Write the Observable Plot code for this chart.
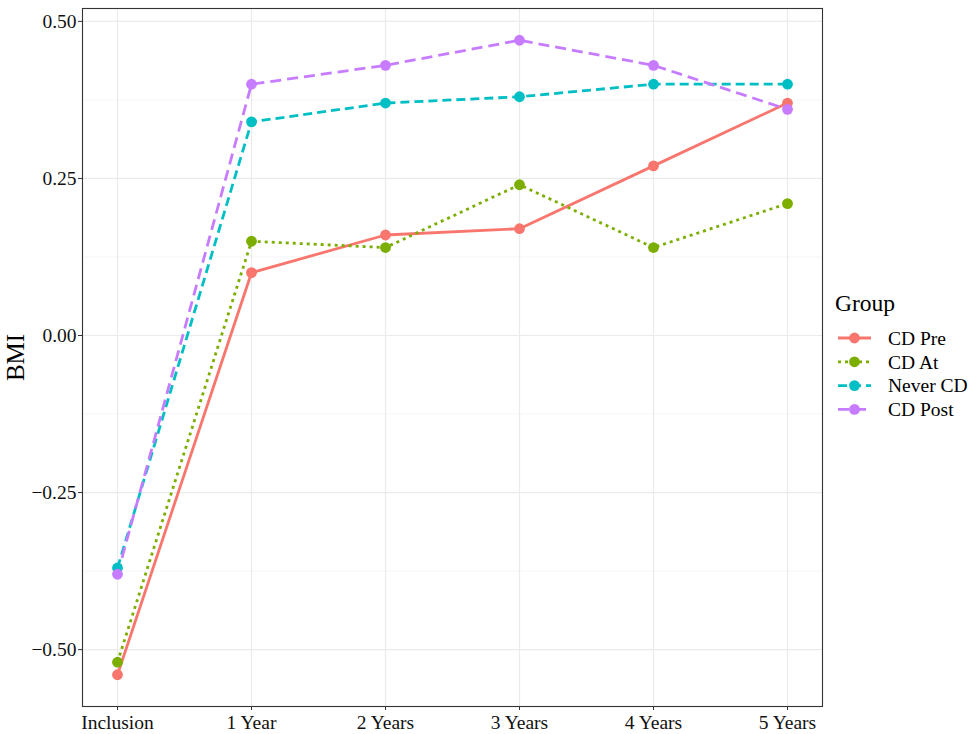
<!DOCTYPE html>
<html>
<head>
<meta charset="utf-8">
<script src="https://cdn.jsdelivr.net/npm/d3@7"></script>
<script src="https://cdn.jsdelivr.net/npm/@observablehq/plot@0.6"></script>
<style>
  html, body { margin: 0; padding: 0; background: #fff; }
  #wrap { position: relative; width: 976px; height: 734px; font-family: "Liberation Serif", serif; }
  #legend { position: absolute; left: 822px; top: 0; }
</style>
</head>
<body>
<div id="wrap"><div id="chart"></div><div id="legend"></div></div>
<script>
const timepoints = ["Inclusion", "1 Year", "2 Years", "3 Years", "4 Years", "5 Years"];
const groups = ["CD Pre", "CD At", "Never CD", "CD Post"];
const cdPre   = [-0.54, 0.10, 0.16, 0.17, 0.27, 0.37];
const cdAt    = [-0.52, 0.15, 0.14, 0.24, 0.14, 0.21];
const neverCD = [-0.37, 0.34, 0.37, 0.38, 0.40, 0.40];
const cdPost  = [-0.38, 0.40, 0.43, 0.47, 0.43, 0.36];
const colors  = ["#F8766D", "#7CAE00", "#00BFC4", "#C77CFF"];
const dashes  = [null, "3,4", "9,5", "11,6"];
const yTicks  = [-0.50, -0.25, 0.00, 0.25, 0.50];
const yMinor  = [-0.375, -0.125, 0.125, 0.375];

const series = [cdPre, cdAt, neverCD, cdPost];
const data = groups.flatMap((g, gi) => timepoints.map((t, ti) => ({group: g, time: t, bmi: series[gi][ti]})));

const lineMarks = groups.map((g, gi) => Plot.line(data.filter(d => d.group === g), {
  x: "time", y: "bmi", stroke: colors[gi], strokeWidth: 2.8,
  strokeDasharray: dashes[gi] || undefined, strokeLinecap: "butt"
}));
const dotMarks = groups.map((g, gi) => Plot.dot(data.filter(d => d.group === g), {
  x: "time", y: "bmi", fill: colors[gi], r: 5.4
}));

const chart = Plot.plot({
  width: 976, height: 734,
  marginLeft: 82, marginRight: 154, marginTop: 8, marginBottom: 28,
  style: {fontFamily: "Liberation Serif, serif", fontSize: "17px", color: "#000", background: "#fff"},
  x: {type: "point", domain: timepoints, padding: 0.25},
  y: {domain: [-0.5905, 0.5205]},
  marks: [
    Plot.gridY(yMinor, {stroke: "#f2f2f2", strokeOpacity: 1, strokeWidth: 0.7}),
    Plot.gridY(yTicks, {stroke: "#ebebeb", strokeOpacity: 1, strokeWidth: 1.2}),
    Plot.gridX(timepoints, {stroke: "#ebebeb", strokeOpacity: 1, strokeWidth: 1.2}),
    ...lineMarks,
    ...dotMarks,
    Plot.frame({stroke: "#333", strokeWidth: 1.1}),
    Plot.axisY(yTicks, {tickFormat: d3.format(".2f"), tickSize: 4, tickPadding: 2, stroke: "#333",
      label: "BMI", labelAnchor: "center", labelArrow: "none", labelOffset: 76}),
    Plot.axisX(timepoints, {tickSize: 4, tickPadding: 5, stroke: "#333", label: null})
  ]
});
chart.querySelectorAll("g[aria-label='y-axis tick label'], g[aria-label='x-axis tick label']").forEach(e => {
  e.setAttribute("font-size", 19.5); e.setAttribute("fill", "#111");
});
chart.querySelectorAll("g[aria-label='y-axis label']").forEach(e => e.setAttribute("font-size", 25));
document.getElementById("chart").appendChild(chart);

// Legend
const lg = d3.select("#legend").append("svg").attr("width", 154).attr("height", 440)
  .style("font-family", "Liberation Serif, serif");
lg.append("text").attr("x", 13).attr("y", 311).attr("font-size", 23.5).text("Group");
groups.forEach((g, i) => {
  const y = 338 + i * 23.8;
  const row = lg.append("g");
  row.append("line").attr("x1", 16).attr("x2", 49).attr("y1", y).attr("y2", y)
    .attr("stroke", colors[i]).attr("stroke-width", 2.8)
    .attr("stroke-dasharray", dashes[i] || null);
  row.append("circle").attr("cx", 32.5).attr("cy", y).attr("r", 5.4).attr("fill", colors[i]);
  row.append("text").attr("x", 66).attr("y", y).attr("dy", "0.35em").attr("font-size", 19.5).text(g);
});
</script>
</body>
</html>
